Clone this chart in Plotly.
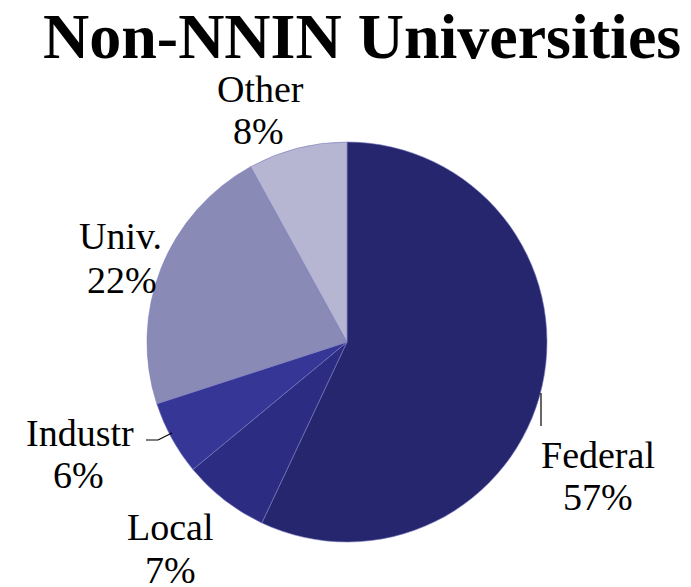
import plotly.graph_objects as go

W, H = 691, 587

labels = ["Federal", "Local", "Industr", "Univ.", "Other"]
values = [57, 7, 6, 22, 8]
colors = ["#26266e", "#2c2c82", "#363696", "#8a8ab6", "#b6b6d2"]

# label anchor positions (pixel centres) for each slice's name and percentage
name_pos = {"Federal": (598, 455), "Local": (170, 527), "Industr": (80, 433),
            "Univ.": (120, 236), "Other": (260, 89)}
pct_pos = {"Federal": (598, 497), "Local": (170, 570), "Industr": (78, 475),
           "Univ.": (122, 280), "Other": (258, 131)}

cx, cy, r = 347, 342, 200

SERIF = "Liberation Serif"

fig = go.Figure(go.Pie(
    labels=labels, values=values, sort=False, direction="clockwise", rotation=0,
    marker=dict(colors=colors, line=dict(color="#7a7ac0", width=0.6)),
    textinfo="none", hoverinfo="label+percent", showlegend=False,
    domain=dict(x=[(cx - r) / W, (cx + r) / W], y=[1 - (cy + r) / H, 1 - (cy - r) / H]),
))

ann = []
for lab, v in zip(labels, values):
    nx, ny = name_pos[lab]
    px, py = pct_pos[lab]
    ann.append(dict(x=nx / W, y=1 - ny / H, xref="paper", yref="paper", text=lab,
                    showarrow=False, font=dict(family=SERIF, size=38, color="black"),
                    xanchor="center", yanchor="middle"))
    ann.append(dict(x=px / W, y=1 - py / H, xref="paper", yref="paper", text=f"{v}%",
                    showarrow=False, font=dict(family=SERIF, size=38, color="black"),
                    xanchor="center", yanchor="middle"))

ann.append(dict(x=362 / W, y=1 - 37 / H, xref="paper", yref="paper",
                text="<b>Non-NNIN Universities</b>", showarrow=False,
                font=dict(family=SERIF, size=64, color="black"),
                xanchor="center", yanchor="middle"))

shapes = [
    dict(type="line", xref="paper", yref="paper", x0=541 / W, x1=541 / W,
         y0=1 - 393 / H, y1=1 - 426 / H, line=dict(color="black", width=1.2)),
    dict(type="path", xref="paper", yref="paper",
         path=f"M {146/W},{1-440/H} L {158/W},{1-440/H} L {172/W},{1-433/H}",
         line=dict(color="black", width=1.2)),
]

fig.update_layout(width=W, height=H, margin=dict(l=0, r=0, t=0, b=0),
                  paper_bgcolor="white", plot_bgcolor="white",
                  annotations=ann, shapes=shapes)
fig.write_html("out.html")
